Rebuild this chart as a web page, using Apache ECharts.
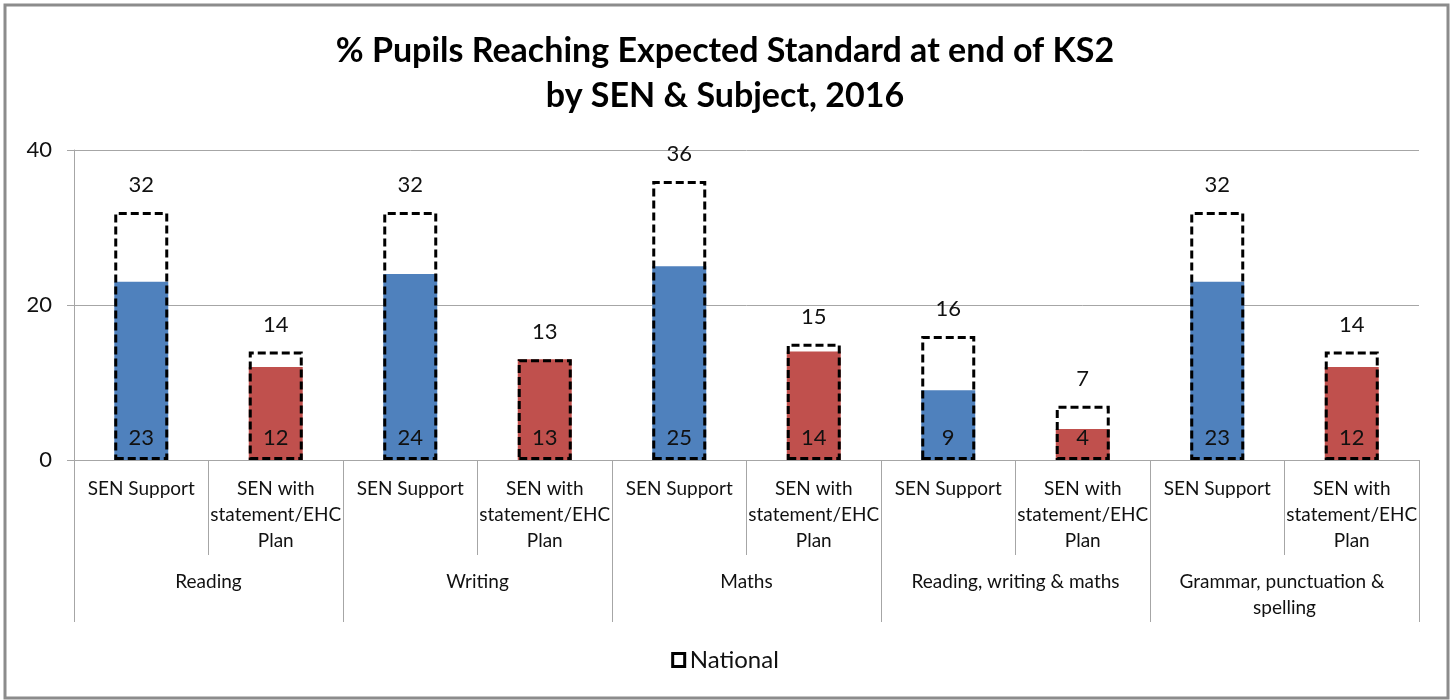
<!DOCTYPE html>
<html>
<head>
<meta charset="utf-8">
<title>% Pupils Reaching Expected Standard at end of KS2</title>
<script src="https://cdn.jsdelivr.net/npm/echarts@6/dist/echarts.min.js"></script>
<style>
  html, body { margin: 0; padding: 0; background: #fff; }
  #chart { width: 1450px; height: 700px; }
</style>
</head>
<body>
<div id="chart"></div>
<script>
// Pupil groups shown under each subject
const groups = ['SEN Support', 'SEN with statement/EHC Plan'];
// Subjects (outer axis level)
const subjects = ['Reading', 'Writing', 'Maths', 'Reading, writing & maths', 'Grammar, punctuation & spelling'];
// Local % reaching expected standard, one value per subject/group pair
const localValues = [23, 12, 24, 13, 25, 14, 9, 4, 23, 12];
// National % reaching expected standard, same order
const nationalValues = [32, 14, 32, 13, 36, 15, 16, 7, 32, 14];
// Value axis ticks
const yTicks = [0, 20, 40];

const categories = [];
subjects.forEach(() => groups.forEach(g => categories.push(g)));

const FONT = 'Lato, "Open Sans", sans-serif';
const AXIS_GREY = '#a6a6a6';
const groupColors = ['#4f81bd', '#c0504d'];

// Wrap the long group name the way the axis shows it
function wrapGroup(name) {
  return name.replace(' statement/EHC ', '\nstatement/EHC\n');
}

const chart = echarts.init(document.getElementById('chart'), null, { renderer: 'canvas' });

chart.setOption({
  animation: false,
  backgroundColor: '#ffffff',
  textStyle: { fontFamily: FONT },
  title: {
    text: '% Pupils Reaching Expected Standard at end of KS2\nby SEN & Subject, 2016',
    left: 'center',
    top: 29,
    padding: 0,
    textStyle: { fontFamily: FONT, fontSize: 34, fontWeight: 'bold', color: '#000', lineHeight: 45 }
  },
  legend: {
    data: ['National'],
    bottom: 23,
    left: 'center',
    itemWidth: 12,
    itemHeight: 13,
    itemGap: 9,
    icon: 'rect',
    itemStyle: { color: '#ffffff', borderColor: '#000', borderWidth: 3 },
    textStyle: { fontFamily: FONT, fontSize: 24, color: '#111' }
  },
  graphic: [{
    type: 'rect',
    silent: true,
    z: 100,
    shape: { x: 5, y: 5, width: 1443, height: 693 },
    style: { fill: 'none', stroke: '#8c8c8c', lineWidth: 3 }
  }],
  grid: { left: 74, right: 31, top: 150, bottom: 240, containLabel: false },
  xAxis: [{
    type: 'category',
    data: categories,
    position: 'bottom',
    axisLine: { show: true, lineStyle: { color: AXIS_GREY, width: 1 } },
    axisTick: { show: true, interval: 0, length: 95, lineStyle: { color: AXIS_GREY } },
    axisLabel: {
      interval: 0,
      margin: 16,
      fontSize: 19,
      lineHeight: 26,
      color: '#111',
      formatter: wrapGroup
    },
    splitLine: { show: false }
  }, {
    type: 'category',
    data: subjects,
    position: 'bottom',
    offset: 0,
    axisLine: { show: false },
    axisTick: { show: true, interval: 0, length: 162, lineStyle: { color: AXIS_GREY } },
    axisLabel: {
      interval: 0,
      margin: 109,
      fontSize: 19,
      lineHeight: 26,
      color: '#111',
      width: 240,
      overflow: 'break'
    },
    splitLine: { show: false }
  }],
  yAxis: {
    type: 'value',
    min: yTicks[0],
    max: yTicks[yTicks.length - 1],
    interval: yTicks[1] - yTicks[0],
    axisLine: { show: true, lineStyle: { color: AXIS_GREY } },
    axisTick: { show: true, length: 7, lineStyle: { color: AXIS_GREY } },
    axisLabel: { fontSize: 22, color: '#111', margin: 22 },
    splitLine: { show: true, lineStyle: { color: AXIS_GREY, width: 1 } }
  },
  series: [{
    name: 'Local',
    type: 'bar',
    xAxisIndex: 0,
    barWidth: 54,
    data: localValues,
    itemStyle: {
      color: p => groupColors[p.dataIndex % groups.length]
    },
    label: {
      show: true,
      position: 'insideBottom',
      distance: 11,
      fontSize: 22,
      color: '#111'
    },
    z: 2
  }, {
    name: 'National',
    type: 'bar',
    xAxisIndex: 0,
    barWidth: 54,
    barGap: '-100%',
    data: nationalValues,
    itemStyle: {
      color: 'rgba(255,255,255,0)',
      borderColor: '#000',
      borderWidth: 3,
      borderType: [8, 4]
    },
    label: {
      show: true,
      position: 'top',
      distance: 16,
      fontSize: 22,
      color: '#111'
    },
    z: 3
  }]
});
</script>
</body>
</html>
